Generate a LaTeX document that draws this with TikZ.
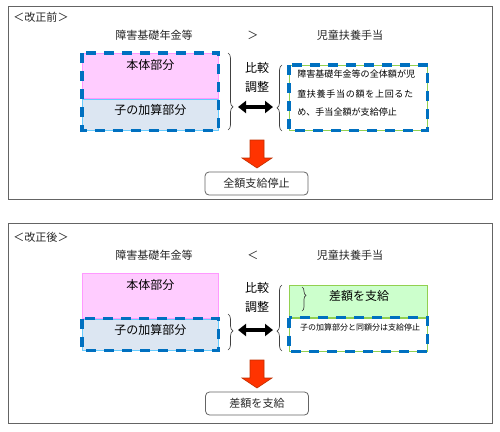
\documentclass[tikz,border=0pt]{standalone}
\usepackage{fontspec}
\setmainfont{Noto Sans CJK JP}
\usepackage{tikz}
\usetikzlibrary{arrows.meta,decorations.pathreplacing}

\definecolor{dashblue}{RGB}{0,112,192}
\definecolor{pinkfill}{RGB}{255,204,255}
\definecolor{pinkline}{RGB}{255,153,255}
\definecolor{bluefill}{RGB}{220,230,242}
\definecolor{blueline}{RGB}{102,204,255}
\definecolor{greenfill}{RGB}{204,255,204}
\definecolor{greenline}{RGB}{146,208,80}
\definecolor{arrowred}{RGB}{255,51,0}
\definecolor{arrowedge}{RGB}{192,48,0}
\definecolor{framegray}{RGB}{100,100,100}

\tikzset{
  panel/.style={draw=framegray, line width=0.75pt},
  lbl/.style={inner sep=0pt, text=black!85, font=\fontsize{8.3pt}{10pt}\selectfont},
  biglbl/.style={inner sep=0pt, font=\fontsize{9pt}{11pt}\selectfont},
  smalllbl/.style={inner sep=0pt, font=\fontsize{6.8pt}{8pt}\selectfont},
  part/.style={inner sep=0pt, minimum width=102pt, anchor=north west, line width=0.5pt},
  pinkpart/.style={part, draw=pinkline, fill=pinkfill},
  bluepart/.style={part, draw=blueline, fill=bluefill},
  rpart/.style={inner sep=0pt, minimum width=103.5pt, anchor=north west, line width=0.5pt, draw=greenline},
  dashframe/.style={draw=dashblue, line width=2.4pt, dash pattern=on 7.5pt off 6pt},
  bracket/.style={draw=black!75, line width=0.5pt, decorate},
  dblarrow/.style={line width=3pt, {Triangle[length=6pt,width=9pt]}-{Triangle[length=6pt,width=9pt]}},
  redarrow/.style={fill=arrowred, draw=arrowedge, line width=0.5pt},
  resultbox/.style={lbl, draw=framegray, rounded corners=3pt, line width=0.6pt, minimum width=77.25pt, minimum height=17.25pt}
}

\begin{document}
\begin{tikzpicture}[x=0.75pt,y=0.75pt,yscale=-1,xscale=1]
\useasboundingbox (0,0) rectangle (500,432);

%Shape: Rectangle [panels]
\draw[panel] (8,6) rectangle (492,199);
\draw[panel] (8,223) rectangle (492,423);

% ---- before the revision ----
% Text Node
\node[lbl, anchor=west] (before) at (13,17) {＜改正前＞};
% Text Node
\node[lbl] (pension1) at (154,35) {障害基礎年金等};
% Text Node
\node[lbl] (gt) at (253,35) {＞};
% Text Node
\node[lbl] (allow1) at (350,35) {児童扶養手当};

%Shape: Rectangle [pension parts]
\node[pinkpart, minimum height=33.75pt] (hontai1) at (82,53) {};
\node[bluepart, minimum height=23.25pt] (kasan1) at (hontai1.south west) {};
\draw[dashframe] (hontai1.north west) rectangle (kasan1.south east);
% Text Node
\node[biglbl] (hontai1t) at ([yshift=9pt]hontai1.north) {本体部分};
% Text Node
\node[biglbl] (kasan1t) at ([yshift=8.25pt]kasan1.north) {子の加算部分};

%Shape: Rectangle [allowance]
\node[rpart, fill=white, minimum height=48.75pt] (teishi1) at (289,65) {};
\draw[dashframe] (teishi1.north west) rectangle (teishi1.south east);
% Text Node
\node[smalllbl, anchor=west] (line1) at (297,74) {障害基礎年金等の全体額が児};
\node[smalllbl, anchor=west] (line2) at (297,94) {\makebox[87pt]{童\hfill 扶\hfill 養\hfill 手\hfill 当\hfill の\hfill 額\hfill を\hfill 上\hfill 回\hfill る\hfill た}};
\node[smalllbl, anchor=west] (line3) at (297,112) {め、手当全額が支給停止};

% Text Node
\node[biglbl] (hikaku1) at (257,68) {比較};
\node[biglbl] (chosei1) at (257,87) {調整};

%Shape: Brace
\draw[bracket, decoration={brace, amplitude=3.75pt, aspect=0.7}] (228,53) -- (228,130);
\draw[bracket, decoration={brace, amplitude=3.75pt, aspect=0.35}] (282,131) -- (282,65);

%Straight Lines [double arrow]
\coordinate (tipL1) at (238,107);
\coordinate (tipR1) at (273,107);
\draw[dblarrow] (tipL1) -- (tipR1);

%Shape: Arrow
\coordinate (dn1) at (257,140);
\draw[redarrow] (dn1) ++(-7,0) -- ++(14,0) -- ++(0,18) -- ++(8,0) -- ++(-15,10) -- ++(-15,-10) -- ++(8,0) -- cycle;
% Text Node
\node[resultbox] (stop1) at (256.5,183.5) {全額支給停止};

% ---- after the revision ----
% Text Node
\node[lbl, anchor=west] (after) at (13,237) {＜改正後＞};
% Text Node
\node[lbl] (pension2) at (154,255) {障害基礎年金等};
% Text Node
\node[lbl] (lt) at (253,255) {＜};
% Text Node
\node[lbl] (allow2) at (350,255) {児童扶養手当};

%Shape: Rectangle [pension parts]
\node[pinkpart, minimum height=33.75pt] (hontai2) at (82,273) {};
\node[bluepart, minimum height=23.25pt] (kasan2) at (hontai2.south west) {};
\draw[dashframe] (kasan2.north west) rectangle (kasan2.south east);
% Text Node
\node[biglbl] (hontai2t) at ([yshift=9pt]hontai2.north) {本体部分};
% Text Node
\node[biglbl] (kasan2t) at ([yshift=8.25pt]kasan2.north) {子の加算部分};

%Shape: Rectangle [allowance]
\node[rpart, fill=greenfill, minimum height=24pt] (sagaku) at (289,285) {};
\node[rpart, fill=white, minimum height=24.75pt] (teishi2) at (sagaku.south west) {};
\draw[dashframe] (teishi2.north west) rectangle (teishi2.south east);
% Text Node
\node[biglbl] (sagakut) at (359,296) {差額を支給};
% Text Node
\node[inner sep=0pt, font=\fontsize{6pt}{7pt}\selectfont] (teishi2t) at (360,327) {子の加算部分と同額分は支給停止};
%Shape: Brace
\draw[bracket, decoration={brace, amplitude=3pt, aspect=0.35}] (302,287) -- (302,311);

% Text Node
\node[biglbl] (hikaku2) at (257,288) {比較};
\node[biglbl] (chosei2) at (257,307) {調整};

%Shape: Brace
\draw[bracket, decoration={brace, amplitude=3.75pt, aspect=0.47}] (228,314) -- (228,350);
\draw[bracket, decoration={brace, amplitude=3.75pt, aspect=0.3}] (282,351) -- (282,285);

%Straight Lines [double arrow]
\coordinate (tipL2) at (238,330);
\coordinate (tipR2) at (273,330);
\draw[dblarrow] (tipL2) -- (tipR2);

%Shape: Arrow
\coordinate (dn2) at (257,360);
\draw[redarrow] (dn2) ++(-7,0) -- ++(14,0) -- ++(0,18) -- ++(8,0) -- ++(-15,10) -- ++(-15,-10) -- ++(8,0) -- cycle;
% Text Node
\node[resultbox] (pay) at (257,403.5) {差額を支給};

\end{tikzpicture}
\end{document}
